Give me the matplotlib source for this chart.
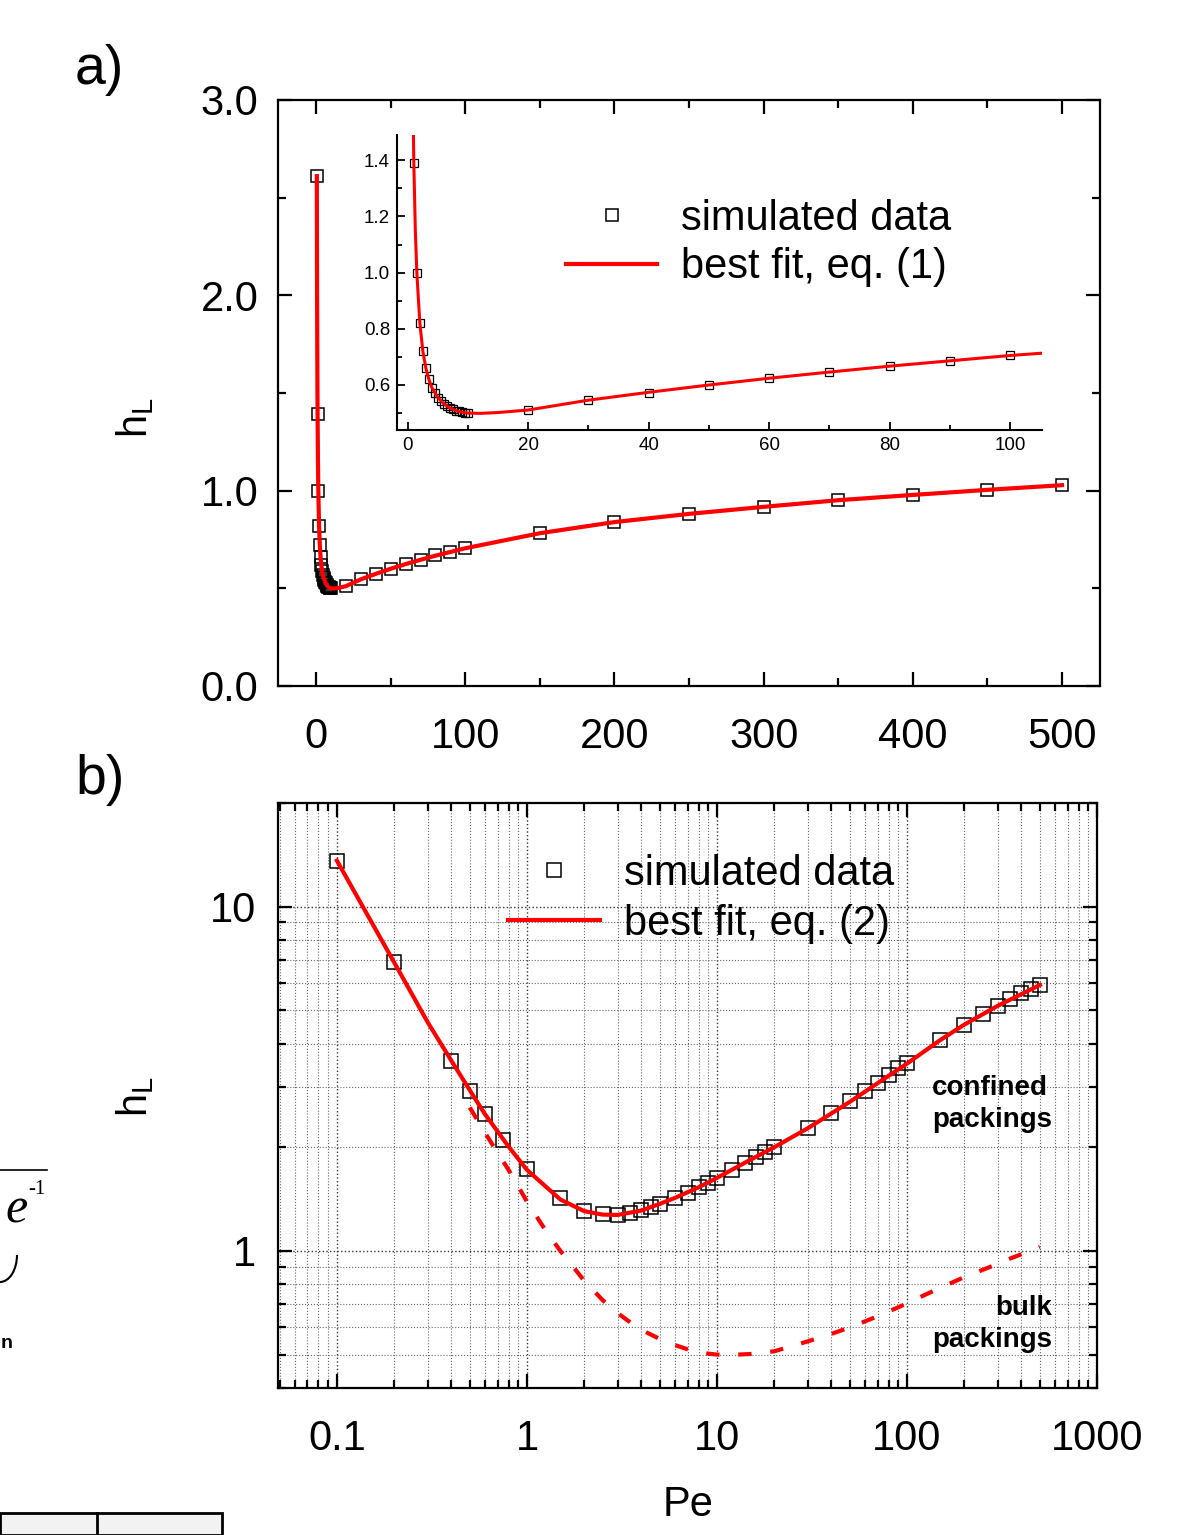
import matplotlib
matplotlib.use("Agg")
import matplotlib.pyplot as plt
from matplotlib import font_manager
from matplotlib.patches import Rectangle, Arc
from matplotlib.lines import Line2D
from matplotlib.ticker import MultipleLocator, FixedLocator, FixedFormatter, LogLocator, NullFormatter, FormatStrFormatter

plt.rcParams['font.family'] = ['Liberation Sans', 'DejaVu Sans']
plt.rcParams['mathtext.fontset'] = 'custom'
plt.rcParams['mathtext.rm'] = 'Liberation Sans'
plt.rcParams['mathtext.it'] = 'Liberation Sans:italic'

installed = {f.name for f in font_manager.fontManager.ttflist}
narrow = 'Liberation Sans Narrow' if 'Liberation Sans Narrow' in installed else 'Liberation Sans'

# a) bulk packings, simulated data
a_pe = [0.5, 1, 1.5, 2, 2.5, 3, 3.5, 4, 4.5, 5, 5.5, 6, 6.5, 7, 7.5, 8, 8.5, 9, 9.5, 10,
        20, 30, 40, 50, 60, 70, 80, 90, 100, 150, 200, 250, 300, 350, 400, 450, 500]
a_h = [2.61, 1.39, 1.00, 0.82, 0.72, 0.66, 0.62, 0.59, 0.57, 0.555, 0.543, 0.533, 0.525, 0.518,
       0.513, 0.509, 0.506, 0.503, 0.501, 0.50, 0.511, 0.547, 0.572, 0.60, 0.625, 0.646, 0.668,
       0.685, 0.705, 0.782, 0.839, 0.881, 0.917, 0.951, 0.978, 1.004, 1.028]

# best fit eq. (1) (also the dashed "bulk packings" curve in b)
fit1_pe = [0.5, 0.6, 0.7, 0.8, 0.9, 1, 1.25, 1.5, 2, 2.5, 3, 3.5, 4, 5, 6, 7, 8, 9, 10, 12, 15, 20,
           30, 40, 50, 60, 70, 80, 90, 100, 150, 200, 250, 300, 350, 400, 450, 500]
fit1_h = [2.61, 2.21, 1.93, 1.72, 1.54, 1.39, 1.15, 1.00, 0.82, 0.72, 0.66, 0.62, 0.59, 0.555,
          0.533, 0.518, 0.509, 0.503, 0.50, 0.499, 0.502, 0.511, 0.546, 0.574, 0.600, 0.624,
          0.646, 0.667, 0.686, 0.705, 0.782, 0.839, 0.881, 0.917, 0.951, 0.978, 1.004, 1.028]

# b) confined packings, simulated data
b_pe = [0.1, 0.2, 0.4, 0.5, 0.6, 0.75, 1, 1.5, 2, 2.5, 3, 3.5, 4, 4.5, 5, 6, 7, 8, 9, 10,
        12, 14, 16, 18, 20, 30, 40, 50, 60, 70, 80, 90, 100, 150, 200, 250, 300, 350, 400, 450, 500]
b_h = [13.6, 6.89, 3.57, 2.92, 2.50, 2.10, 1.73, 1.42, 1.31, 1.28, 1.273, 1.289, 1.313, 1.34,
       1.37, 1.423, 1.477, 1.532, 1.579, 1.633, 1.72, 1.806, 1.87, 1.944, 2.0, 2.27, 2.51, 2.72,
       2.92, 3.07, 3.25, 3.40, 3.51, 4.10, 4.54, 4.89, 5.15, 5.39, 5.61, 5.76, 5.92]

# best fit eq. (2)
fit2_pe = [0.1, 0.2, 0.3, 0.4, 0.5, 0.6, 0.8, 1, 1.5, 2, 2.5, 3, 4, 5, 6, 8, 10, 15, 20, 30, 50,
           70, 100, 150, 200, 300, 500]
fit2_h = [13.6, 6.89, 4.62, 3.57, 2.93, 2.50, 2.01, 1.72, 1.41, 1.305, 1.275, 1.272, 1.31, 1.37,
          1.425, 1.53, 1.63, 1.84, 2.0, 2.27, 2.71, 3.07, 3.50, 4.10, 4.54, 5.15, 5.92]

b_xticks = [0.1, 1, 10, 100, 1000]
b_xlabels = ['0.1', '1', '10', '100', '1000']
b_yticks = [1, 10]
b_ylabels = ['1', '10']

fig = plt.figure(figsize=(12, 15.35), dpi=100)

# ---------- panel a ----------
ax_a = fig.add_axes([0.2317, 0.5531, 0.685, 0.3818])
ax_a.plot(a_pe, a_h, 's', ms=8.5, mfc='none', mec='black', mew=1.1, label='simulated data', zorder=2)
ax_a.plot(fit1_pe, fit1_h, '-', color='red', lw=3, label='best fit, eq. (1)', zorder=3)
ax_a.set_xlim(-25.5, 525.5)
ax_a.set_ylim(0, 3)
ax_a.xaxis.set_major_locator(MultipleLocator(100))
ax_a.xaxis.set_minor_locator(MultipleLocator(50))
ax_a.yaxis.set_major_locator(MultipleLocator(1))
ax_a.yaxis.set_minor_locator(MultipleLocator(0.5))
ax_a.yaxis.set_major_formatter(FormatStrFormatter('%.1f'))
ax_a.tick_params(which='both', direction='in', top=True, right=True, width=1.6, labelsize=30)
ax_a.tick_params(which='major', length=10)
ax_a.tick_params(which='minor', length=6)
ax_a.tick_params(axis='x', pad=22)
ax_a.tick_params(axis='y', pad=14)
for s in ax_a.spines.values():
    s.set_linewidth(1.6)
ax_a.legend(loc='upper left', bbox_to_anchor=(0.35, 0.831), frameon=False, fontsize=30,
            handlelength=2.2, handletextpad=0.57, labelspacing=0.2, borderpad=0, borderaxespad=0)

# inset
ax_in = fig.add_axes([0.3308, 0.7199, 0.5375, 0.1922])
ax_in.patch.set_visible(False)
ax_in.plot(a_pe, a_h, 's', ms=6, mfc='none', mec='black', mew=0.9, zorder=2)
ax_in.plot(fit1_pe, fit1_h, '-', color='red', lw=2.2, zorder=3)
ax_in.set_xlim(-1.8, 105.3)
ax_in.set_ylim(0.44, 1.49)
ax_in.xaxis.set_major_locator(MultipleLocator(20))
ax_in.xaxis.set_minor_locator(MultipleLocator(10))
ax_in.yaxis.set_major_locator(MultipleLocator(0.2))
ax_in.yaxis.set_minor_locator(MultipleLocator(0.1))
ax_in.yaxis.set_major_formatter(FormatStrFormatter('%.1f'))
ax_in.spines['top'].set_visible(False)
ax_in.spines['right'].set_visible(False)
for s in ax_in.spines.values():
    s.set_linewidth(1.5)
ax_in.tick_params(which='both', direction='in', width=1.3, labelsize=13.5, pad=5)
ax_in.tick_params(which='major', length=6)
ax_in.tick_params(which='minor', length=3.5)

# ---------- panel b ----------
ax_b = fig.add_axes([0.2317, 0.0958, 0.6825, 0.3811])
ax_b.set_xscale('log')
ax_b.set_yscale('log')
ax_b.plot(b_pe, b_h, 's', ms=9.5, mfc='none', mec='black', mew=1.1, label='simulated data', zorder=2)
ax_b.plot(fit2_pe, fit2_h, '-', color='red', lw=3, label='best fit, eq. (2)', zorder=3)
ax_b.plot(fit1_pe, fit1_h, color='red', lw=3, ls=(0, (3.2, 4.5)), zorder=3)
ax_b.set_xlim(0.049, 1000)
ax_b.set_ylim(0.4, 20)
ax_b.xaxis.set_major_locator(FixedLocator(b_xticks))
ax_b.xaxis.set_major_formatter(FixedFormatter(b_xlabels))
ax_b.xaxis.set_minor_locator(LogLocator(base=10, subs=range(2, 10), numticks=20))
ax_b.xaxis.set_minor_formatter(NullFormatter())
ax_b.yaxis.set_major_locator(FixedLocator(b_yticks))
ax_b.yaxis.set_major_formatter(FixedFormatter(b_ylabels))
ax_b.yaxis.set_minor_locator(LogLocator(base=10, subs=range(2, 10), numticks=20))
ax_b.yaxis.set_minor_formatter(NullFormatter())
ax_b.grid(which='major', ls=':', color='0.2', lw=1.0)
ax_b.grid(which='minor', ls=':', color='0.4', lw=0.8)
ax_b.set_axisbelow(True)
ax_b.tick_params(which='both', direction='in', top=True, right=True, width=1.6, labelsize=30)
ax_b.tick_params(which='major', length=10)
ax_b.tick_params(which='minor', length=6)
ax_b.tick_params(axis='x', pad=22)
ax_b.tick_params(axis='y', pad=16)
for lab in ax_b.get_xticklabels():
    lab.set_family(narrow)
    lab.set_fontsize(32 if narrow != 'Liberation Sans' else 30)
for s in ax_b.spines.values():
    s.set_linewidth(1.6)
ax_b.legend(loc='upper left', bbox_to_anchor=(0.281, 0.913), frameon=False, fontsize=30,
            handlelength=2.2, handletextpad=0.57, labelspacing=0.24, borderpad=0, borderaxespad=0)
ax_b.text(0.7985, 0.486, 'confined\npackings', transform=ax_b.transAxes, fontsize=20,
          fontweight='bold', ha='left', va='center', linespacing=1.3)
ax_b.text(0.945, 0.110, 'bulk\npackings', transform=ax_b.transAxes, fontsize=20,
          fontweight='bold', ha='right', va='center', multialignment='right', linespacing=1.3)

# ---------- labels ----------
fig.text(75 / 1200, 1 - 70 / 1535, 'a)', fontsize=40, ha='left', va='center')
fig.text(75 / 1200, 1 - 780 / 1535, 'b)', fontsize=40, ha='left', va='center')
fig.text(135 / 1200, 1 - 418 / 1535, r'h$_\mathrm{L}$', fontsize=30, rotation=90, ha='center', va='center')
fig.text(135 / 1200, 1 - 1097 / 1535, r'h$_\mathrm{L}$', fontsize=30, rotation=90, ha='center', va='center')
fig.text(688 / 1200, 1 - 1505 / 1535, 'Pe', fontsize=32 if narrow != 'Liberation Sans' else 30,
         family=narrow, ha='center', va='center')

# fragments of the neighbouring page content on the left edge
fig.text(5 / 1200, 1 - 1210 / 1535, 'e', family='Liberation Serif', style='italic', fontsize=36,
         ha='left', va='center')
fig.text(28 / 1200, 1 - 1190 / 1535, '-1', family='Liberation Serif', fontsize=15,
         ha='left', va='center')
fig.add_artist(Line2D([0, 47 / 1200], [1 - 1170 / 1535] * 2, color='black', lw=1.2,
                      transform=fig.transFigure))
fig.add_artist(Arc((0, 1 - 1255 / 1535), 34 / 1200, 54 / 1535, theta1=270, theta2=360,
                   color='black', lw=1.5, transform=fig.transFigure))
fig.text(1 / 1200, 1 - 1343 / 1535, 'n', fontsize=14, fontweight='bold', ha='left', va='center')
fig.add_artist(Rectangle((0, 0), 222 / 1200, 22 / 1535, facecolor='#f2f2f2', edgecolor='black',
                         lw=2, transform=fig.transFigure))
fig.add_artist(Line2D([97 / 1200] * 2, [0, 22 / 1535], color='black', lw=2,
                      transform=fig.transFigure))

fig.savefig('out.png', dpi=100)
